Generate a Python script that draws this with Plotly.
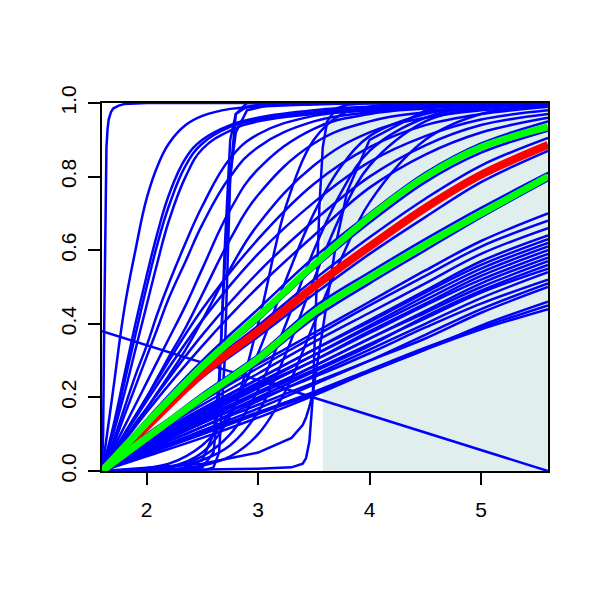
import plotly.graph_objects as go

# ---------------- data ----------------
X_RANGE = [1.6, 5.6]
Y_RANGE = [0.0, 1.0]
X_TICKS = [2, 3, 4, 5]
X_TICK_LABELS = ["2", "3", "4", "5"]
Y_TICKS = [0.0, 0.2, 0.4, 0.6, 0.8, 1.0]
Y_TICK_LABELS = ["0.0", "0.2", "0.4", "0.6", "0.8", "1.0"]

SHADE_X = [3.58, 5.6]
SHADE_Y = [0.0, 1.0]

DIAG_X = [1.6, 5.6]
DIAG_Y = [0.38, 0.0]

# very steep curve at the left edge
STEP_LEFT_X = [1.6, 1.61, 1.62, 1.63, 1.64, 1.65, 1.66, 1.68, 1.7, 1.75, 1.8, 2.0, 5.6]
STEP_LEFT_Y = [0.0, 0.1, 0.4, 0.75, 0.88, 0.93, 0.955, 0.975, 0.985, 0.993, 0.997, 1.0, 1.0]

# fast, concave curves fanning out from the origin
FAN_X = [1.6, 1.7, 1.8, 1.9, 2.0, 2.1, 2.2, 2.35, 2.5, 2.75, 3.0, 3.5, 4.0, 4.5, 5.0, 5.6]
FAN_Y = [
    [0, 0.22, 0.44, 0.60, 0.74, 0.83, 0.89, 0.94, 0.965, 0.984, 0.99, 0.996, 1, 1, 1, 1],
    [0, 0.12, 0.26, 0.40, 0.53, 0.65, 0.75, 0.85, 0.90, 0.94, 0.96, 0.98, 0.99, 0.995, 1, 1],
    [0, 0.11, 0.24, 0.37, 0.50, 0.62, 0.72, 0.83, 0.89, 0.935, 0.955, 0.975, 0.985, 0.993, 0.997, 1],
    [0, 0.10, 0.21, 0.33, 0.45, 0.57, 0.68, 0.80, 0.875, 0.925, 0.95, 0.97, 0.98, 0.99, 0.995, 0.998],
    [0, 0.08, 0.17, 0.26, 0.34, 0.43, 0.51, 0.62, 0.72, 0.85, 0.915, 0.965, 0.98, 0.99, 0.995, 0.998],
    [0, 0.07, 0.15, 0.23, 0.31, 0.39, 0.47, 0.57, 0.67, 0.80, 0.88, 0.95, 0.975, 0.988, 0.995, 0.998],
    [0, 0.06, 0.12, 0.18, 0.24, 0.30, 0.36, 0.45, 0.55, 0.71, 0.82, 0.93, 0.97, 0.985, 0.993, 0.997],
    [0, 0.05, 0.10, 0.15, 0.20, 0.255, 0.31, 0.39, 0.48, 0.63, 0.75, 0.89, 0.95, 0.975, 0.988, 0.995],
    [0, 0.04, 0.085, 0.13, 0.17, 0.215, 0.26, 0.33, 0.41, 0.55, 0.67, 0.83, 0.92, 0.96, 0.98, 0.99],
]

# moderate curves
MID_X = [1.6, 2.0, 2.5, 3.0, 3.5, 4.0, 4.5, 5.0, 5.6]
MID_Y = [
    [0, 0.125, 0.28, 0.41, 0.55, 0.675, 0.785, 0.865, 0.925],
    [0, 0.14, 0.30, 0.44, 0.58, 0.70, 0.81, 0.89, 0.95],
    [0, 0.125, 0.275, 0.395, 0.52, 0.635, 0.74, 0.83, 0.905],
    [0, 0.115, 0.255, 0.365, 0.48, 0.59, 0.69, 0.785, 0.87],
    [0, 0.085, 0.19, 0.295, 0.415, 0.51, 0.60, 0.69, 0.79],
    [0, 0.095, 0.21, 0.315, 0.445, 0.54, 0.63, 0.715, 0.81],
    [0, 0.16, 0.34, 0.50, 0.64, 0.77, 0.86, 0.92, 0.96],
    [0, 0.17, 0.37, 0.54, 0.68, 0.80, 0.885, 0.94, 0.97],
    [0, 0.19, 0.41, 0.59, 0.73, 0.84, 0.91, 0.955, 0.98],
    [0, 0.20, 0.44, 0.63, 0.78, 0.88, 0.94, 0.97, 0.99],
]

# slow, nearly straight curves (lower bundle)
LOW_Y = [
    [0, 0.045, 0.10, 0.155, 0.21, 0.27, 0.33, 0.385, 0.44],
    [0, 0.05, 0.105, 0.16, 0.215, 0.275, 0.335, 0.39, 0.45],
    [0, 0.04, 0.09, 0.145, 0.205, 0.27, 0.33, 0.395, 0.46],
    [0, 0.055, 0.12, 0.18, 0.24, 0.30, 0.36, 0.43, 0.50],
    [0, 0.05, 0.11, 0.17, 0.235, 0.30, 0.37, 0.44, 0.51],
    [0, 0.06, 0.13, 0.195, 0.255, 0.32, 0.39, 0.455, 0.52],
    [0, 0.055, 0.12, 0.19, 0.26, 0.33, 0.40, 0.47, 0.54],
    [0, 0.065, 0.14, 0.21, 0.275, 0.345, 0.415, 0.485, 0.55],
    [0, 0.06, 0.13, 0.20, 0.27, 0.34, 0.42, 0.49, 0.56],
    [0, 0.07, 0.145, 0.215, 0.285, 0.36, 0.43, 0.50, 0.57],
    [0, 0.065, 0.135, 0.21, 0.285, 0.36, 0.435, 0.51, 0.58],
    [0, 0.075, 0.155, 0.23, 0.30, 0.375, 0.45, 0.52, 0.59],
    [0, 0.07, 0.15, 0.225, 0.30, 0.38, 0.455, 0.53, 0.60],
    [0, 0.08, 0.16, 0.24, 0.315, 0.39, 0.465, 0.54, 0.61],
    [0, 0.075, 0.155, 0.235, 0.315, 0.395, 0.475, 0.55, 0.62],
    [0, 0.085, 0.17, 0.25, 0.33, 0.405, 0.485, 0.56, 0.63],
    [0, 0.08, 0.165, 0.25, 0.33, 0.41, 0.49, 0.57, 0.64],
    [0, 0.09, 0.18, 0.265, 0.35, 0.43, 0.51, 0.59, 0.66],
    [0, 0.095, 0.19, 0.28, 0.365, 0.45, 0.53, 0.61, 0.68],
    [0, 0.10, 0.20, 0.29, 0.375, 0.46, 0.545, 0.625, 0.70],
]

# S-shaped curves rising in the middle
SIG_X = [1.6, 2.2, 2.5, 2.75, 3.0, 3.25, 3.5, 3.75, 4.0, 4.5, 5.0, 5.6]
SIG_Y = [
    [0, 0.02, 0.07, 0.16, 0.32, 0.52, 0.70, 0.83, 0.91, 0.97, 0.99, 1],
    [0, 0.01, 0.04, 0.10, 0.22, 0.40, 0.60, 0.76, 0.87, 0.96, 0.99, 1],
    [0, 0.01, 0.03, 0.07, 0.16, 0.32, 0.52, 0.70, 0.83, 0.95, 0.985, 0.998],
    [0, 0.005, 0.015, 0.04, 0.10, 0.22, 0.40, 0.58, 0.73, 0.90, 0.97, 0.995],
    [0, 0.01, 0.05, 0.15, 0.40, 0.72, 0.90, 0.97, 0.99, 1, 1, 1],
]

# sharp steps near x = 2.7
STEP27_X = [1.6, 2.3, 2.5, 2.6, 2.65, 2.7, 2.75, 2.8, 2.9, 3.1, 3.5, 5.6]
STEP27_Y = [
    [0, 0, 0.01, 0.05, 0.2, 0.6, 0.9, 0.97, 0.99, 1, 1, 1],
    [0, 0.005, 0.03, 0.1, 0.25, 0.55, 0.8, 0.92, 0.98, 0.995, 1, 1],
    [0, 0, 0, 0.01, 0.05, 0.3, 0.8, 0.97, 1, 1, 1, 1],
]

# sharp steps near x = 3.5
STEP35_X = [1.6, 2.5, 3.0, 3.3, 3.4, 3.43, 3.46, 3.49, 3.52, 3.55, 3.58, 3.62, 3.7, 3.8, 4.0, 4.5, 5.6]
STEP35_Y = [
    [0, 0.003, 0.006, 0.01, 0.02, 0.035, 0.08, 0.2, 0.45, 0.72, 0.88, 0.95, 0.985, 0.995, 1, 1, 1],
    [0, 0.02, 0.05, 0.09, 0.125, 0.145, 0.175, 0.21, 0.27, 0.33, 0.39, 0.46, 0.62, 0.76, 0.9, 0.98, 1],
]

# highlighted curves
HL_X = [1.6, 2.0, 2.5, 3.0, 3.5, 4.0, 4.5, 5.0, 5.6]
RED_Y = [0, 0.12, 0.265, 0.38, 0.50, 0.61, 0.715, 0.805, 0.886]
GREEN_HI_Y = [0, 0.13, 0.285, 0.42, 0.56, 0.69, 0.80, 0.88, 0.935]
GREEN_LO_Y = [0, 0.09, 0.20, 0.305, 0.43, 0.525, 0.615, 0.70, 0.80]

BLUE = "#0000FF"
RED = "#FF0000"
GREEN = "#00FF00"
SHADE = "#E0EEEE"

fig = go.Figure()


def add_curve(xs, ys, color, width, shape="spline", smoothing=1.0):
    line = dict(color=color, width=width, shape=shape)
    if shape == "spline":
        line["smoothing"] = smoothing
    fig.add_trace(go.Scatter(x=xs, y=ys, mode="lines", line=line,
                             hoverinfo="skip", showlegend=False))


BW = 2.5
add_curve(DIAG_X, DIAG_Y, BLUE, BW, "linear")
add_curve(STEP_LEFT_X, STEP_LEFT_Y, BLUE, BW, "linear")
for ys in LOW_Y:
    add_curve(MID_X, ys, BLUE, BW)
for ys in FAN_Y:
    add_curve(FAN_X, ys, BLUE, BW, smoothing=1.2)
for ys in MID_Y:
    add_curve(MID_X, ys, BLUE, BW)
for ys in SIG_Y:
    add_curve(SIG_X, ys, BLUE, BW)
for ys in STEP27_Y:
    add_curve(STEP27_X, ys, BLUE, BW, "linear")
for ys in STEP35_Y:
    add_curve(STEP35_X, ys, BLUE, BW, "linear")

add_curve(HL_X, RED_Y, RED, 8)
add_curve(HL_X, GREEN_HI_Y, GREEN, 7)
add_curve(HL_X, GREEN_LO_Y, GREEN, 7)

fig.add_shape(type="rect", xref="x", yref="y",
              x0=SHADE_X[0], x1=SHADE_X[1], y0=SHADE_Y[0], y1=SHADE_Y[1],
              fillcolor=SHADE, line=dict(width=0), layer="below")

axis_common = dict(showgrid=False, zeroline=False, showline=True, linecolor="black",
                   linewidth=2, mirror=True, ticks="outside", ticklen=12,
                   tickwidth=2, tickcolor="black",
                   tickfont=dict(family="Liberation Sans", size=21, color="black"))

fig.update_xaxes(range=X_RANGE, tickvals=X_TICKS, ticktext=X_TICK_LABELS,
                 ticklabelstandoff=7, **axis_common)
fig.update_yaxes(range=Y_RANGE, tickvals=Y_TICKS, ticktext=Y_TICK_LABELS,
                 tickangle=-90, ticklabelstandoff=4, **axis_common)

fig.update_layout(width=600, height=600, paper_bgcolor="white", plot_bgcolor="white",
                  margin=dict(l=94, r=60, t=95, b=137), showlegend=False)

fig.write_html("out.html")
